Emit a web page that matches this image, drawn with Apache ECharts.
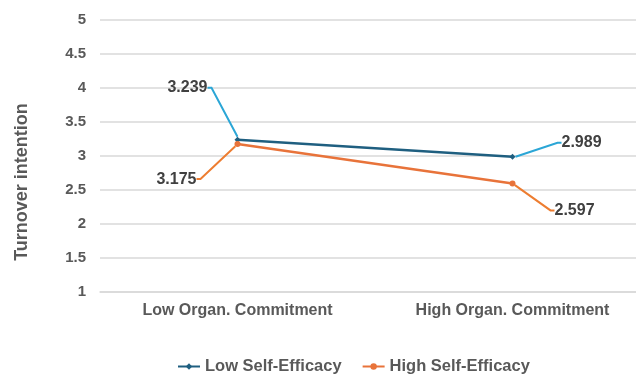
<!DOCTYPE html>
<html>
<head>
<meta charset="utf-8">
<script src="https://cdn.jsdelivr.net/npm/echarts@6/dist/echarts.min.js"></script>
<style>
  html, body { margin: 0; padding: 0; background: #fff; }
  #chart { width: 636px; height: 374px; }
</style>
</head>
<body>
<div id="chart"></div>
<script>
    const categories = ['Low Organ. Commitment', 'High Organ. Commitment'];
    const lowSE = [3.239, 2.989];
    const highSE = [3.175, 2.597];
    const yTicks = [1, 1.5, 2, 2.5, 3, 3.5, 4, 4.5, 5];

    // label offsets (px) for the callouts
    const lowOffsets = [[-22, -52], [41, -14]];
    const highOffsets = [[-33, 35], [34, 27]];

    const textColor = '#595959';
    const font = 'Liberation Sans, Arial, sans-serif';

    function makeSeries(name, data, color, guideColor, offsets, symbol) {
        return {
            name: name,
            type: 'line',
            data: data.map(function (v, i) {
                // left point labels on the left, right point labels on the right
                return {value: v, label: {position: i === 0 ? 'left' : 'right'}};
            }),
            symbol: symbol,
            symbolSize: 6,
            lineStyle: {color: color, width: 2.5},
            itemStyle: {color: color},
            label: {
                show: true,
                formatter: '{c}',
                color: '#404040',
                fontSize: 16,
                fontWeight: 'bold',
                fontFamily: font
            },
            labelLine: {
                show: true,
                length2: 4,
                lineStyle: {color: guideColor, width: 2}
            },
            labelLayout: function (params) {
                const o = offsets[params.dataIndex];
                return {dx: o[0], dy: o[1]};
            }
        };
    }

    const myChart = echarts.init(document.getElementById('chart'));

    myChart.setOption({
        animation: false,
        grid: {left: 100, top: 20, bottom: 82, width: 550, outerBoundsMode: 'none', containLabel: false},
        legend: {
            left: 172,
            bottom: -6,
            itemGap: 20,
            itemWidth: 22,
            itemHeight: 8,
            textStyle: {color: textColor, fontSize: 16.5, fontWeight: 'bold', fontFamily: font},
            data: ['Low Self-Efficacy', 'High Self-Efficacy']
        },
        xAxis: {
            type: 'category',
            data: categories,
            axisLine: {lineStyle: {color: '#D9D9D9', width: 1.5}},
            axisTick: {show: false},
            axisLabel: {color: textColor, fontSize: 16, fontWeight: 'bold', fontFamily: font, margin: 11}
        },
        yAxis: {
            type: 'value',
            min: yTicks[0],
            max: yTicks[yTicks.length - 1],
            interval: 0.5,
            name: 'Turnover intention',
            nameLocation: 'middle',
            nameGap: 69,
            nameTextStyle: {color: textColor, fontSize: 18, fontWeight: 'bold', fontFamily: font, padding: [0, 52, 0, 0]},
            axisLine: {show: false},
            axisTick: {show: false},
            splitLine: {lineStyle: {color: '#D9D9D9', width: 1.5}},
            axisLabel: {color: textColor, fontSize: 15, fontWeight: 'bold', fontFamily: font, margin: 14}
        },
        series: [
            makeSeries('Low Self-Efficacy', lowSE, '#1F5F80', '#2BA6D6', lowOffsets, 'diamond'),
            makeSeries('High Self-Efficacy', highSE, '#E8733A', '#ED7D31', highOffsets, 'circle')
        ]
    });
</script>
</body>
</html>
